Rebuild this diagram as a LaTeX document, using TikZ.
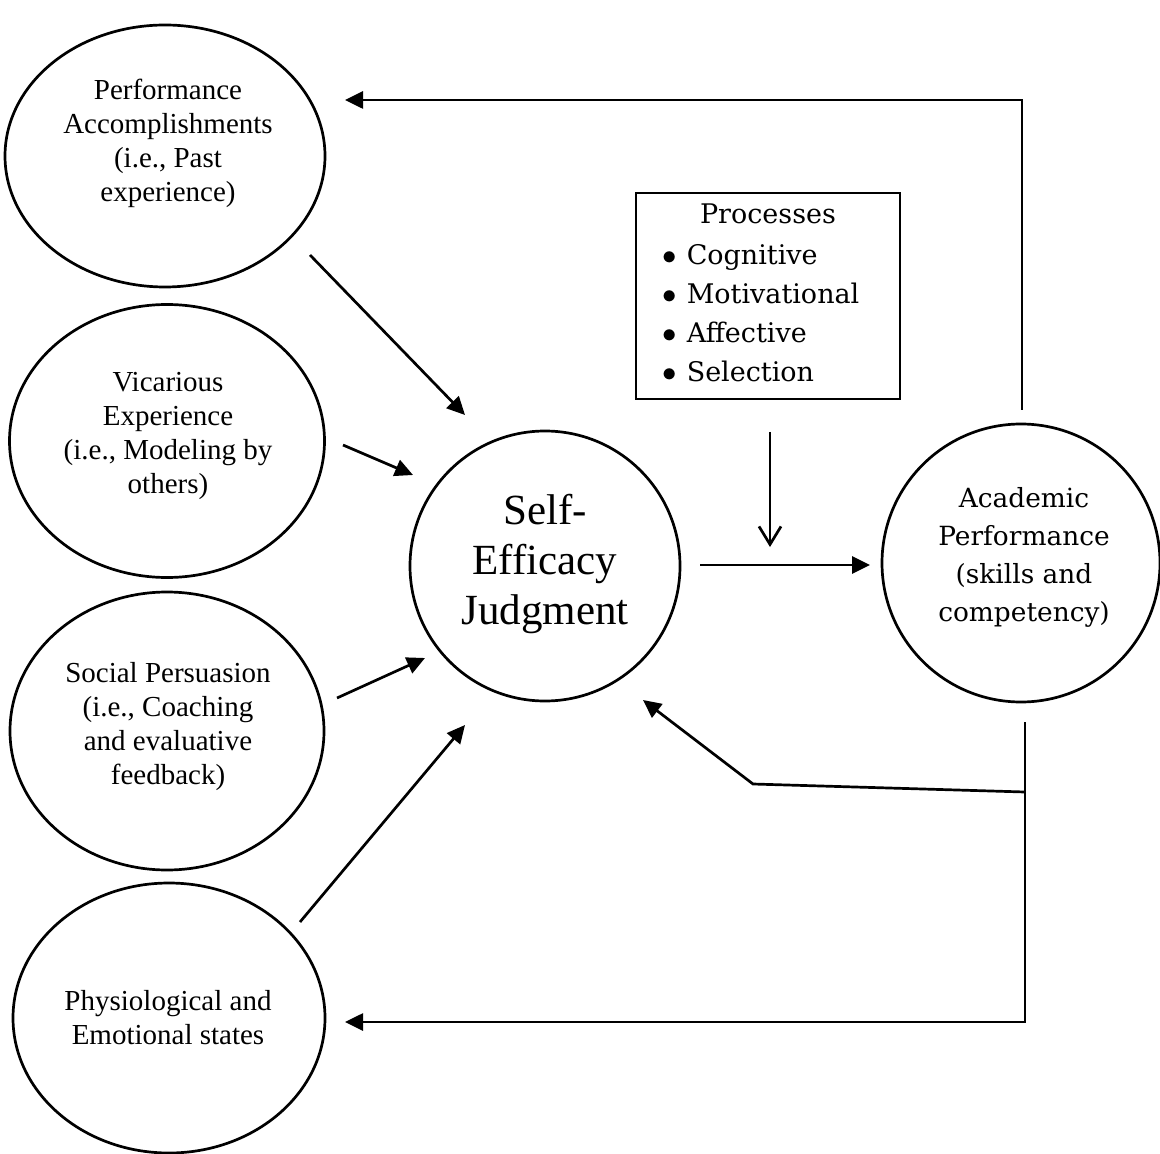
\documentclass[tikz,border=0pt]{standalone}
\usepackage{fontspec}
\setmainfont{Liberation Serif}
\newfontfamily\camb{DejaVu Serif}
\usetikzlibrary{arrows.meta,shapes.geometric}
\begin{document}
\begin{tikzpicture}[x=0.5pt,y=-0.5pt,line width=1.35pt,
  srcell/.style={draw,ellipse,inner sep=0pt},
  ring/.style={draw,circle,inner sep=0pt},
  lefttxt/.style={align=center,font=\fontsize{14.5pt}{17pt}\selectfont,inner sep=0pt},
  arr/.style={-{Triangle[length=9pt,width=8.5pt]}},
  barb/.style={-{Straight Barb[length=9pt,width=11pt,line width=1.35pt]}}]
\useasboundingbox (0,0) rectangle (1160,1154);
% left source ellipses
\node[srcell,minimum width=160pt,minimum height=131pt] (e1) at (165,156) {};
\node[srcell,minimum width=157.5pt,minimum height=136.5pt] (e2) at (167,441) {};
\node[srcell,minimum width=157pt,minimum height=139pt] (e3) at (167,731) {};
\node[srcell,minimum width=156pt,minimum height=135pt] (e4) at (169,1018) {};
\node[lefttxt] (t1) at (168,143) {Performance\\Accomplishments\\(i.e., Past\\experience)};
\node[lefttxt] (t2) at (168,436) {Vicarious\\Experience\\(i.e., Modeling by\\others)};
\node[lefttxt] (t3) at (168,727) {Social Persuasion\\(i.e., Coaching\\and evaluative\\feedback)};
\node[lefttxt] (t4) at (168,1018) {Physiological and\\Emotional states};
% central
\node[ring,minimum size=135pt] (self) at (545,566) {};
\node[align=center,inner sep=0pt,font=\fontsize{21.5pt}{25pt}\selectfont] (selft) at (545,564) {Self-\\Efficacy\\Judgment};
% academic
\node[ring,minimum size=139pt] (acad) at (1021,563) {};
\node[align=center,inner sep=0pt,font=\camb\fontsize{13.2pt}{19pt}\selectfont] (acadt) at (1024,557) {Academic\\Performance\\(skills and\\competency)};
% processes box
\node[draw,minimum width=132pt,minimum height=103pt,inner sep=0pt] (box) at (768,296) {};
\node[inner sep=0pt,font=\camb\fontsize{13.5pt}{19.5pt}\selectfont] (boxh) at (768,214) {Processes};
\node[anchor=west,inner sep=0pt,align=left,font=\camb\fontsize{13.5pt}{19.5pt}\selectfont] (boxl) at (661,313) {%
$\bullet$\hspace{5pt}Cognitive\\
$\bullet$\hspace{5pt}Motivational\\
$\bullet$\hspace{5pt}Affective\\
$\bullet$\hspace{5pt}Selection};
% arrow endpoints
\coordinate (a1s) at (310,255); \coordinate (a1e) at (465,415);
\coordinate (a2s) at (343,445); \coordinate (a2e) at (413,475);
\coordinate (a3s) at (337,698); \coordinate (a3e) at (425,658);
\coordinate (a4s) at (300,922); \coordinate (a4e) at (465,725);
\coordinate (ms) at (700,565); \coordinate (me) at (870,565);
\coordinate (ps) at (770,432); \coordinate (pe) at (770,547);
\coordinate (ts) at (1022,410); \coordinate (tc) at (1022,100); \coordinate (te) at (345,100);
\coordinate (bs) at (1025,722); \coordinate (bc) at (1025,1022); \coordinate (be) at (345,1022);
\coordinate (fs) at (1025,792); \coordinate (fc) at (753,784); \coordinate (fe) at (643,700);
\draw[arr] (a1s) -- (a1e);
\draw[arr] (a2s) -- (a2e);
\draw[arr] (a3s) -- (a3e);
\draw[arr] (a4s) -- (a4e);
\draw[arr] (ms) -- (me);
\draw[barb] (ps) -- (pe);
\draw[arr] (ts) -- (tc) -- (te);
\draw[arr] (bs) -- (bc) -- (be);
\draw[arr] (fs) -- (fc) -- (fe);
\end{tikzpicture}
\end{document}
